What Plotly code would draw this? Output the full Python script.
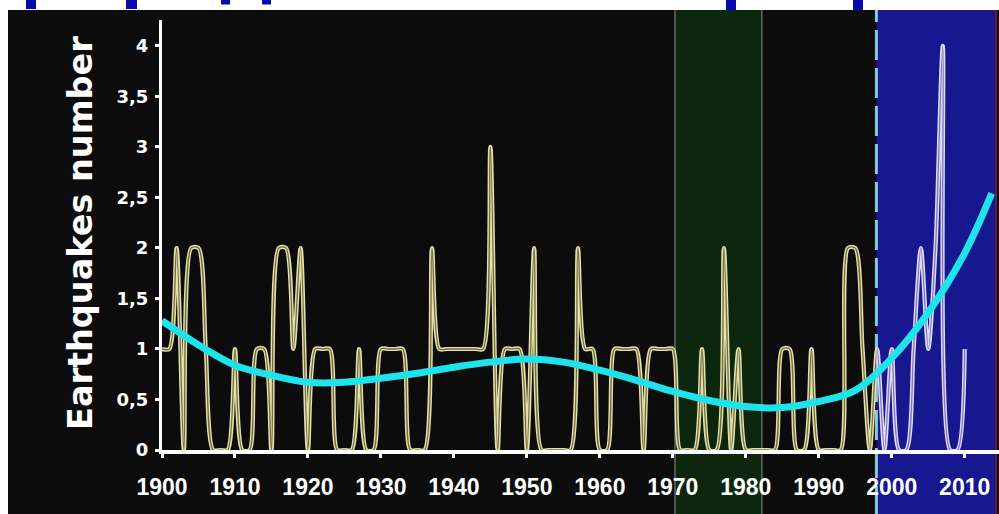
import plotly.graph_objects as go

# ---------------- data ----------------
years = list(range(1900, 2011))
quakes = [
    1, 1, 2, 0, 2, 2, 1, 0, 0, 0,      # 1900-1909
    1, 0, 0, 1, 1, 0, 2, 2, 1, 2,      # 1910-1919
    0, 1, 1, 1, 0, 0, 0, 1, 0, 0,      # 1920-1929
    1, 1, 1, 1, 0, 0, 0, 2, 1, 1,      # 1930-1939
    1, 1, 1, 1, 1, 3, 0, 1, 1, 1,      # 1940-1949
    0, 2, 0, 0, 0, 0, 0, 2, 1, 1,      # 1950-1959
    0, 0, 1, 1, 1, 1, 0, 1, 1, 1,      # 1960-1969
    1, 0, 0, 0, 1, 0, 0, 2, 0, 1,      # 1970-1979
    0, 0, 0, 0, 0, 1, 1, 0, 0, 1,      # 1980-1989
    0, 0, 0, 0, 2, 2, 1, 0, 1, 0,      # 1990-1999
    1, 0, 0, 1, 2, 1, 2, 4, 0, 0,      # 2000-2009
    1,                                 # 2010
]
trend_years = [1900, 1905, 1910, 1915, 1920, 1925, 1930, 1935, 1940, 1945, 1950,
               1955, 1960, 1965, 1970, 1975, 1980, 1985, 1990, 1995, 2000, 2005,
               2010, 2013.7]
trend_vals = [1.28, 1.04, 0.84, 0.74, 0.67, 0.67, 0.71, 0.76, 0.82, 0.87, 0.90,
              0.87, 0.79, 0.69, 0.58, 0.49, 0.43, 0.42, 0.48, 0.59, 0.91, 1.36,
              1.95, 2.54]
y_tickvals = [0, 0.5, 1, 1.5, 2, 2.5, 3, 3.5, 4]
y_ticktext = ["0", "0,5", "1", "1,5", "2", "2,5", "3", "3,5", "4"]
x_tickvals = list(range(1900, 2011, 10))
x_ticktext = [str(v) for v in x_tickvals]
green_band = (1970.3, 1982.2)
blue_zone = (1997.9, 2014.3)
y_title = "Earthquakes number"

# ---------------- geometry / style ----------------
W, H = 999, 514
L, R, T, B = 162, 0, 20, 64
PW, PH = W - L - R, H - T - B
X0, X1 = 1900, 2014.7
Y0, Y1 = 0.0, 4.257
split = blue_zone[0]
d = (split - X0) / (X1 - X0)

BLACK = "#0c0c0c"
CYAN = "#1fe3ea"


def px(xp):
    return (xp - L) / PW


def py(yp):
    return (H - B - yp) / PH


fig = go.Figure()

for xa, outer, inner in [("x2", "#e5e1a8", "#6f6c44"), ("x3", "#e0daf6", "#7c76ba")]:
    fig.add_trace(go.Scatter(
        x=years, y=quakes, xaxis=xa, yaxis="y", mode="lines",
        line=dict(color=outer, width=4.2, shape="spline", smoothing=0.8, simplify=False),
        hoverinfo="skip", showlegend=False))
    fig.add_trace(go.Scatter(
        x=years, y=quakes, xaxis=xa, yaxis="y", mode="lines",
        line=dict(color=inner, width=1.3, shape="spline", smoothing=0.8, simplify=False),
        hoverinfo="skip", showlegend=False))
    fig.add_trace(go.Scatter(
        x=trend_years, y=trend_vals, xaxis=xa, yaxis="y", mode="lines",
        line=dict(color=CYAN, width=7, shape="spline", smoothing=1.0, simplify=False),
        hoverinfo="skip", showlegend=False))

shapes = []
# white page borders
shapes.append(dict(type="rect", xref="paper", yref="paper", x0=px(-2), x1=px(W + 2),
                   y0=py(10), y1=py(-2), fillcolor="white", line_width=0, layer="below"))
shapes.append(dict(type="rect", xref="paper", yref="paper", x0=px(-2), x1=px(8),
                   y0=py(H + 2), y1=py(-2), fillcolor="white", line_width=0, layer="below"))
# cut-off blue title fragments
for (a, b, h) in [(26, 36, 9), (126, 137, 9), (221, 230, 4.5), (262, 271, 4.5),
                  (726, 736, 10), (853, 863, 10)]:
    shapes.append(dict(type="rect", xref="paper", yref="paper", x0=px(a), x1=px(b),
                       y0=py(h), y1=py(0), fillcolor="#0a0aa6", line_width=0, layer="below"))
# green band
shapes.append(dict(type="rect", xref="x", yref="paper", x0=green_band[0], x1=green_band[1],
                   y0=py(H + 2), y1=py(10), fillcolor="#0d270e", line_width=0, layer="below"))
for gx in green_band:
    shapes.append(dict(type="line", xref="x", yref="paper", x0=gx, x1=gx,
                       y0=py(H + 2), y1=py(10), line=dict(color="#626a62", width=1.5),
                       layer="below"))
# blue zone
shapes.append(dict(type="rect", xref="x", yref="paper", x0=blue_zone[0], x1=blue_zone[1],
                   y0=py(H + 2), y1=py(10), fillcolor="#17178f", line_width=0, layer="below"))
shapes.append(dict(type="line", xref="x", yref="paper", x0=blue_zone[1], x1=blue_zone[1],
                   y0=py(H + 2), y1=py(10), line=dict(color="#6a1a40", width=2), layer="below"))
shapes.append(dict(type="line", xref="x", yref="paper", x0=blue_zone[0], x1=blue_zone[0],
                   y0=py(H + 2), y1=py(10), line=dict(color="#86ccd2", width=3, dash="30px,8px"),
                   layer="below"))

fig.update_layout(
    width=W, height=H,
    margin=dict(l=L, r=R, t=T, b=B, pad=0),
    paper_bgcolor=BLACK, plot_bgcolor="rgba(0,0,0,0)",
    showlegend=False,
    shapes=shapes,
    xaxis=dict(domain=[0, 1], range=[X0, X1], anchor="y",
               showgrid=False, zeroline=False,
               showline=True, linecolor="white", linewidth=4,
               ticks="outside", ticklen=4, tickwidth=3, tickcolor="white",
               tickvals=x_tickvals, ticktext=x_ticktext,
               tickfont=dict(family="Liberation Sans, Arial, sans-serif",
                             size=23, color="white", weight="bold"),
               ticklabelstandoff=9),
    xaxis2=dict(domain=[0, d], range=[X0, split], anchor="y", visible=False),
    xaxis3=dict(domain=[d, 1], range=[split, X1], anchor="y", visible=False),
    yaxis=dict(domain=[0, 1], range=[Y0, Y1], anchor="x",
               showgrid=False, zeroline=False,
               showline=True, linecolor="white", linewidth=3,
               ticks="outside", ticklen=4, tickwidth=3, tickcolor="white",
               tickvals=y_tickvals, ticktext=y_ticktext,
               tickfont=dict(family="DejaVu Sans", size=18, color="white", weight="bold"),
               ticklabelstandoff=3),
    annotations=[dict(text=y_title, xref="paper", yref="paper", x=px(80), y=py(233),
                      xanchor="center", yanchor="middle", textangle=-90, showarrow=False,
                      font=dict(family="DejaVu Sans", size=33.5, color="white", weight="bold"))],
)

fig.write_html("out.html", config={"displayModeBar": False},
               post_script="document.body.style.margin='0px';")
